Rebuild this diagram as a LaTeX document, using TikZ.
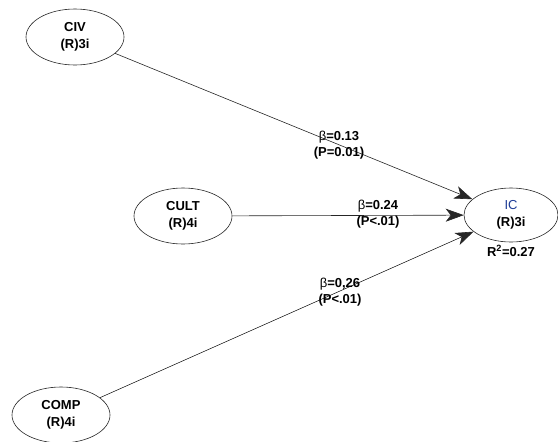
\documentclass[tikz,border=0pt]{standalone}
\usepackage{fontspec}
\setmainfont{Liberation Sans}
\usepackage{tikz}
\usetikzlibrary{shapes.geometric,arrows.meta,positioning,calc}
\definecolor{icblue}{RGB}{30,60,150}
\tikzset{
  latent/.style={ellipse, draw=black!85, line width=0.6pt, align=center,
                 inner sep=0pt, minimum width=98pt, minimum height=56pt,
                 font=\fontsize{13}{17}\selectfont\bfseries},
  pathlbl/.style={align=center, inner sep=1pt,
                  font=\fontsize{13}{16}\selectfont\bfseries},
  patharr/.style={-{Stealth[length=18pt,width=13pt,inset=5pt]}, line width=0.6pt, draw=black!85},
}
\begin{document}
\begin{tikzpicture}[x=1pt, y=-1pt]
    \useasboundingbox (0,0) rectangle (558,442);
    \node[latent] (civ)  at (75,37)  {CIV\\(R)3i};
    \node[latent] (cult) at (183,216) {CULT\\(R)4i};
    \node[latent] (comp) at (61,415) {COMP\\(R)4i};
    \node[latent, minimum width=94pt, minimum height=54pt] (ic) at (511,215)
        {\textcolor{icblue}{\mdseries IC}\\(R)3i};
    \node[pathlbl, below=2pt of ic] (rsq) {R$^{\mathbf{2}}$=0.27};
    % path coefficients
    \draw[patharr] (civ)--(ic);
    \draw[patharr] (cult)--(ic);
    \draw[patharr] (comp)--(ic);
    \node[pathlbl] (b1) at (339,145) {{\mdseries β}=0.13\\(P=0.01)};
    \node[pathlbl] (b2) at (378,214) {{\mdseries β}=0.24\\(P<.01)};
    \node[pathlbl] (b3) at (340,292) {{\mdseries β}=0,26\\(P<.01)};
\end{tikzpicture}
\end{document}
